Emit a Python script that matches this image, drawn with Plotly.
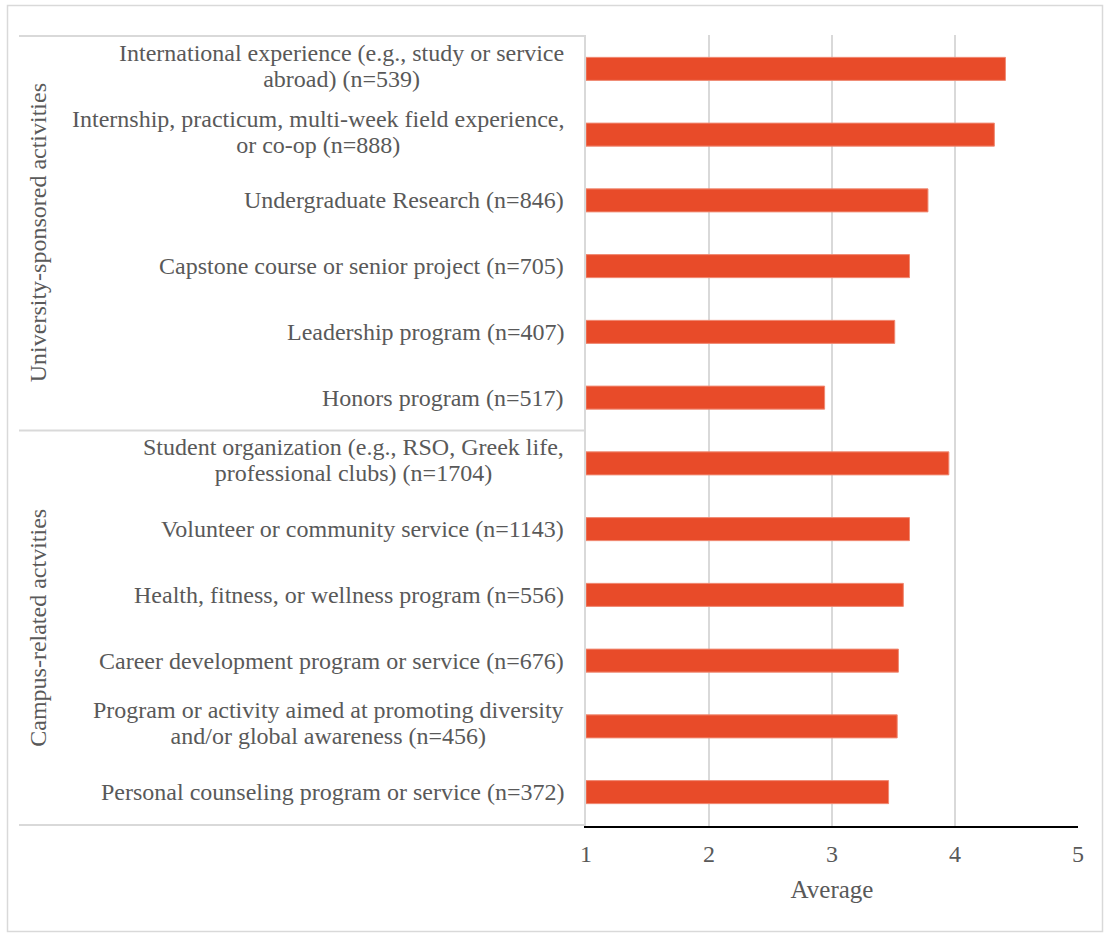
import plotly.graph_objects as go

categories = [
    "International experience (e.g., study or service<br>abroad) (n=539)",
    "Internship, practicum, multi-week field experience,<br>or co-op (n=888)",
    "Undergraduate Research (n=846)",
    "Capstone course or senior project (n=705)",
    "Leadership program (n=407)",
    "Honors program (n=517)",
    "Student organization (e.g., RSO, Greek life,<br>professional clubs) (n=1704)",
    "Volunteer or community service (n=1143)",
    "Health, fitness, or wellness program (n=556)",
    "Career development program or service (n=676)",
    "Program or activity aimed at promoting diversity<br>and/or global awareness (n=456)",
    "Personal counseling program or service (n=372)",
]
averages = [4.41, 4.32, 3.78, 3.63, 3.51, 2.94, 3.95, 3.63, 3.58, 3.54, 3.53, 3.46]
groups = ["University-sponsored activities", "Campus-related actvities"]
group_sizes = [6, 6]
x_ticks = [1, 2, 3, 4, 5]

W, H = 1104, 934
L, R, T, B = 586, 26, 35, 108
PW = W - L - R
PH = H - T - B

def px_x(px):
    return (px - L) / PW

def px_y(py):
    return (H - B - py) / PH

FONT = "Liberation Serif, Times New Roman, serif"
GRAY = "#595959"
LINE = "#D9D9D9"
FS = 24

fig = go.Figure()
fig.add_trace(go.Bar(
    x=[v - 1 for v in averages],
    y=categories,
    base=1,
    orientation="h",
    marker=dict(color="#E84B29", line=dict(color="#F08A73", width=1)),
    hovertemplate="%{y}: %{x}<extra></extra>",
))

annotations = []
for c in categories:
    lines = c.split("<br>")
    txt = "<br>".join('<span style="font-size:%dpx">%s</span>' % (FS, ln) for ln in lines)
    annotations.append(dict(
        x=0, xref="paper", y=c, yref="y",
        text=txt, showarrow=False, xanchor="right", yanchor="middle",
        align="center", xshift=-20, yshift=3 if len(lines) > 1 else 0,
        font=dict(family=FONT, size=20, color=GRAY),
    ))

shapes = []
start = 0
bounds = [-0.5]
for n in group_sizes:
    start += n
    bounds.append(start - 0.5)
for b in bounds:
    shapes.append(dict(type="line", xref="paper", yref="y",
                       x0=px_x(19), x1=0, y0=b, y1=b,
                       line=dict(color=LINE, width=2)))
for i, g in enumerate(groups):
    mid = (bounds[i] + bounds[i + 1]) / 2
    annotations.append(dict(
        x=px_x(38), xref="paper", y=mid, yref="y",
        text=g, showarrow=False, textangle=-90,
        xanchor="center", yanchor="middle",
        font=dict(family=FONT, size=FS, color=GRAY),
    ))
shapes.append(dict(type="rect", xref="paper", yref="paper",
                   x0=px_x(7.5), x1=px_x(1102.5), y0=px_y(931.5), y1=px_y(5.5),
                   line=dict(color=LINE, width=1.5), layer="below"))

fig.update_layout(
    width=W, height=H,
    margin=dict(l=L, r=R, t=T, b=B),
    paper_bgcolor="white", plot_bgcolor="white",
    showlegend=False,
    bargap=0.65,
    font=dict(family=FONT, size=FS, color=GRAY),
    annotations=annotations,
    shapes=shapes,
    xaxis=dict(
        range=[1, 5], tickvals=x_ticks, ticktext=[str(t) for t in x_ticks],
        showgrid=True, gridcolor=LINE, gridwidth=1.5,
        zeroline=False, showline=True, linecolor="black", linewidth=2,
        ticks="", ticklabelstandoff=5,
        tickfont=dict(family=FONT, size=FS, color=GRAY),
        title=dict(text="Average", font=dict(family=FONT, size=25, color=GRAY), standoff=15),
    ),
    yaxis=dict(
        categoryorder="array", categoryarray=categories,
        autorange="reversed",
        showticklabels=False, showgrid=False, zeroline=False,
        showline=True, linecolor=LINE, linewidth=2, ticks="",
    ),
)

fig.write_html("out.html", config={"displayModeBar": False},
               post_script="document.body.style.margin='0';document.body.style.overflow='hidden';")
